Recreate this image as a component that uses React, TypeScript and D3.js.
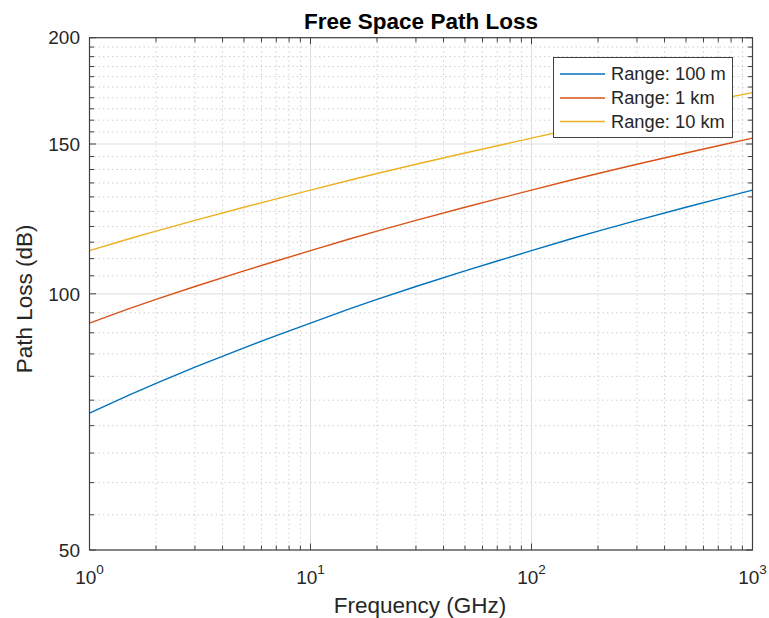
import React from "react";
import * as d3 from "d3";

const freqs = [1, 1.5, 2, 3, 5, 7, 10, 15, 20, 30, 50, 70, 100, 150, 200, 300, 500, 700, 1000];
// Path loss (dB) read for each range
const loss100m = [72.4, 76.0, 78.5, 82.0, 86.4, 89.3, 92.4, 96.0, 98.5, 102.0, 106.4, 109.3, 112.4, 116.0, 118.5, 122.0, 126.4, 129.3, 132.4];
const loss1km = [92.4, 96.0, 98.5, 102.0, 106.4, 109.3, 112.4, 116.0, 118.5, 122.0, 126.4, 129.3, 132.4, 136.0, 138.5, 142.0, 146.4, 149.3, 152.4];
const loss10km = [112.4, 116.0, 118.5, 122.0, 126.4, 129.3, 132.4, 136.0, 138.5, 142.0, 146.4, 149.3, 152.4, 156.0, 158.5, 162.0, 166.4, 169.3, 172.4];
const seriesNames = ["Range: 100 m", "Range: 1 km", "Range: 10 km"];
const seriesColors = ["#0072BD", "#D95319", "#EDB120"];

const xMajorTicks = [1, 10, 100, 1000];
const xExponents = ["0", "1", "2", "3"];
const yMajorTicks = [50, 100, 150, 200];
const yMinorTicks = [55, 60, 65, 70, 75, 80, 85, 90, 95, 105, 110, 115, 120, 125, 130, 135, 140, 145, 155, 160, 165, 170, 175, 180, 185, 190, 195];

const W = 769;
const H = 618;
const L = 89.5, R = 752.5, T = 37.7, B = 550;

export default function App() {
  const x = d3.scaleLog().domain([1, 1000]).range([L, R]);
  const y = d3.scaleLog().domain([50, 200]).range([B, T]);
  const xMinor: number[] = [];
  [1, 10, 100].forEach((d) => {
    for (let k = 2; k <= 9; k++) xMinor.push(d * k);
  });
  const series = [loss100m, loss1km, loss10km];
  const line = d3
    .line<number>()
    .x((_, i) => x(freqs[i]))
    .y((v) => y(v));
  const axisColor = "#404040";
  const textColor = "#262626";
  const font = "Liberation Sans, Arial, Helvetica, sans-serif";
  const majTick = 6.5;
  const minTick = 4.5;

  const legX = 553.5, legY = 57.5, legW = 179, legH = 80;
  const rowY = [74, 98, 121.5];

  return (
    <svg width={W} height={H} style={{ position: "absolute", left: 0, top: 0, background: "#fff" }} fontFamily={font}>
      <rect x={0} y={0} width={W} height={H} fill="#fff" />
      <rect x={L} y={T} width={R - L} height={B - T} fill="#fff" />
      {/* minor grid */}
      {xMinor.map((v) => (
        <line key={"xm" + v} x1={x(v)} x2={x(v)} y1={T} y2={B} stroke="#cfcfcf" strokeWidth={1} strokeDasharray="1.5,3" />
      ))}
      {yMinorTicks.map((v) => (
        <line key={"ym" + v} x1={L} x2={R} y1={y(v)} y2={y(v)} stroke="#cfcfcf" strokeWidth={1} strokeDasharray="1.5,3" />
      ))}
      {/* major grid */}
      {xMajorTicks.map((v) => (
        <line key={"xg" + v} x1={x(v)} x2={x(v)} y1={T} y2={B} stroke="#dedede" strokeWidth={1} />
      ))}
      {yMajorTicks.map((v) => (
        <line key={"yg" + v} x1={L} x2={R} y1={y(v)} y2={y(v)} stroke="#dedede" strokeWidth={1} />
      ))}
      {/* series */}
      {series.map((s, i) => (
        <path key={"s" + i} d={line(s) || ""} fill="none" stroke={seriesColors[i]} strokeWidth={1.4} />
      ))}
      {/* axes box */}
      <rect x={L} y={T} width={R - L} height={B - T} fill="none" stroke={axisColor} strokeWidth={1.2} />
      {/* ticks */}
      {xMajorTicks.map((v) => (
        <g key={"xt" + v}>
          <line x1={x(v)} x2={x(v)} y1={B} y2={B - majTick} stroke={axisColor} />
          <line x1={x(v)} x2={x(v)} y1={T} y2={T + majTick} stroke={axisColor} />
        </g>
      ))}
      {xMinor.map((v) => (
        <g key={"xmt" + v}>
          <line x1={x(v)} x2={x(v)} y1={B} y2={B - minTick} stroke={axisColor} />
          <line x1={x(v)} x2={x(v)} y1={T} y2={T + minTick} stroke={axisColor} />
        </g>
      ))}
      {yMajorTicks.map((v) => (
        <g key={"yt" + v}>
          <line x1={L} x2={L + majTick} y1={y(v)} y2={y(v)} stroke={axisColor} />
          <line x1={R} x2={R - majTick} y1={y(v)} y2={y(v)} stroke={axisColor} />
        </g>
      ))}
      {yMinorTicks.map((v) => (
        <g key={"ymt" + v}>
          <line x1={L} x2={L + minTick} y1={y(v)} y2={y(v)} stroke={axisColor} />
          <line x1={R} x2={R - minTick} y1={y(v)} y2={y(v)} stroke={axisColor} />
        </g>
      ))}
      {/* tick labels */}
      {yMajorTicks.map((v) => (
        <text key={"yl" + v} x={L - 9.5} y={y(v)} dy="0.35em" textAnchor="end" fontSize={19} fill={textColor}>
          {v}
        </text>
      ))}
      {xMajorTicks.map((v, i) => (
        <text key={"xl" + v} x={x(v)} y={583.5} textAnchor="middle" fontSize={19} fill={textColor}>
          10
          <tspan fontSize={13.5} dy={-9.5}>
            {xExponents[i]}
          </tspan>
        </text>
      ))}
      {/* axis labels */}
      <text x={(L + R) / 2 - 1} y={612.5} textAnchor="middle" fontSize={22.5} fill={textColor}>
        Frequency (GHz)
      </text>
      <text transform={`translate(32,${(T + B) / 2 + 5}) rotate(-90)`} textAnchor="middle" fontSize={22.5} fill={textColor}>
        Path Loss (dB)
      </text>
      <text x={(L + R) / 2} y={28.5} textAnchor="middle" fontSize={22.5} fontWeight="bold" fill="#000">
        Free Space Path Loss
      </text>
      {/* legend */}
      <rect x={legX} y={legY} width={legW} height={legH} fill="#fff" stroke={axisColor} strokeWidth={1} />
      {seriesNames.map((n, i) => (
        <g key={"lg" + i}>
          <line x1={560} x2={605} y1={rowY[i]} y2={rowY[i]} stroke={seriesColors[i]} strokeWidth={1.4} />
          <text x={611} y={rowY[i]} dy="0.35em" fontSize={18.3} fill={textColor}>
            {n}
          </text>
        </g>
      ))}
    </svg>
  );
}
